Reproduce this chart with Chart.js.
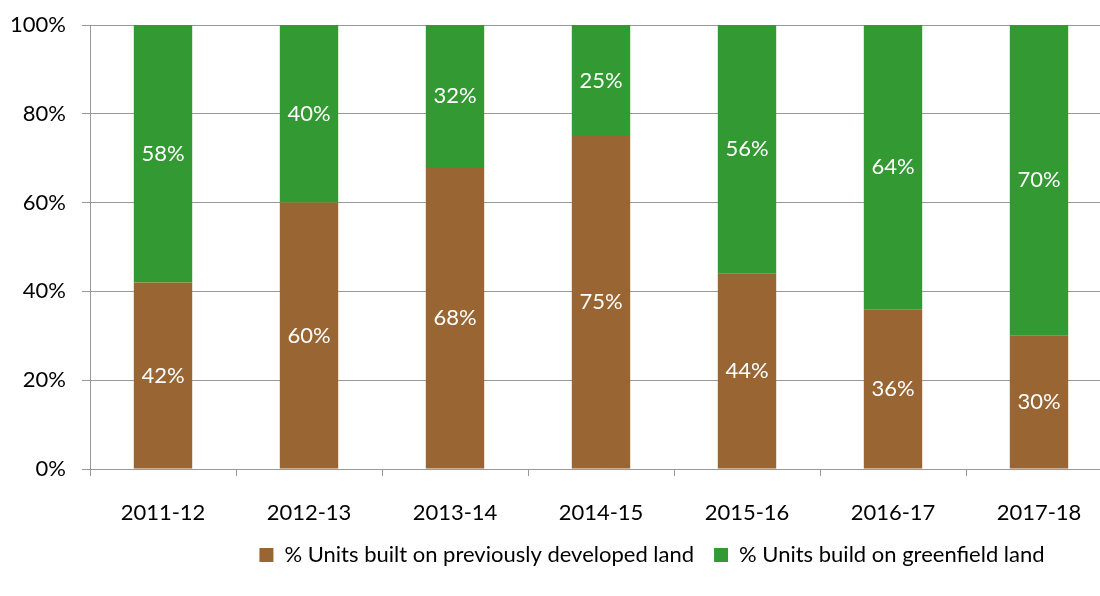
<!DOCTYPE html>
<html>
<head>
<meta charset="utf-8">
<script src="https://cdn.jsdelivr.net/npm/chart.js@4.4.1/dist/chart.umd.min.js"></script>
<style>
    html, body { margin: 0; padding: 0; background: #fff; overflow: hidden; }
    #wrap { width: 1120px; height: 596px; }
</style>
</head>
<body>
<div id="wrap"><canvas id="canvas" width="1120" height="596"></canvas></div>
<script>
var years = ['2011-12', '2012-13', '2013-14', '2014-15', '2015-16', '2016-17', '2017-18'];
var previouslyDeveloped = [42, 60, 68, 75, 44, 36, 30];
var greenfield = [58, 40, 32, 25, 56, 64, 70];
var yTicks = [0, 20, 40, 60, 80, 100];

var fontFamily = 'Lato, "Open Sans", sans-serif';

// white value labels in the middle of each bar segment
var barLabels = {
    id: 'barLabels',
    afterDatasetsDraw: function (chart) {
        var ctx = chart.ctx;
        ctx.save();
        ctx.fillStyle = '#ffffff';
        ctx.font = '22px ' + fontFamily;
        ctx.textAlign = 'center';
        ctx.textBaseline = 'middle';
        chart.data.datasets.forEach(function (ds, i) {
            chart.getDatasetMeta(i).data.forEach(function (bar, j) {
                var mid = (bar.y + bar.base) / 2;
                ctx.fillText(ds.data[j] + '%', bar.x, mid);
            });
        });
        ctx.restore();
    }
};

// the legend sits right of centre in the original, move it over
var legendShift = {
    id: 'legendShift',
    afterLayout: function (chart) {
        chart.legend.left += 96;
        chart.legend.right += 96;
    }
};

var ctx = document.getElementById('canvas').getContext('2d');
var myChart = new Chart(ctx, {
    type: 'bar',
    data: {
        labels: years,
        datasets: [{
            label: '% Units built on previously developed land',
            data: previouslyDeveloped,
            backgroundColor: '#996633',
            barPercentage: 0.4,
            categoryPercentage: 1.0
        }, {
            label: '% Units build on greenfield land',
            data: greenfield,
            backgroundColor: '#339933',
            barPercentage: 0.4,
            categoryPercentage: 1.0
        }]
    },
    options: {
        responsive: false,
        animation: false,
        layout: { padding: { left: 0, right: 8, top: 25, bottom: 20 } },
        plugins: {
            tooltip: { enabled: false },
            legend: {
                position: 'bottom',
                labels: {
                    color: '#000',
                    font: { size: 22, family: fontFamily },
                    boxWidth: 14,
                    boxHeight: 14,
                    padding: 20
                }
            }
        },
        scales: {
            x: {
                stacked: true,
                grid: {
                    offset: true,
                    drawOnChartArea: false,
                    drawTicks: true,
                    tickLength: 7,
                    color: '#999'
                },
                border: { color: '#999' },
                ticks: {
                    color: '#000',
                    font: { size: 22, family: fontFamily },
                    padding: 24,
                    maxRotation: 0
                },
                afterFit: function (scale) { scale.height = 55; }
            },
            y: {
                stacked: true,
                min: 0,
                max: 100,
                afterBuildTicks: function (scale) {
                    scale.ticks = yTicks.map(function (v) { return { value: v }; });
                },
                grid: {
                    color: '#999',
                    tickLength: 8
                },
                border: { color: '#999' },
                ticks: {
                    color: '#000',
                    font: { size: 22, family: fontFamily },
                    padding: 16,
                    callback: function (v) { return v + '%'; }
                },
                afterFit: function (scale) {
                    scale.width = 90;
                    scale.paddingTop = 0;
                    scale.paddingBottom = 0;
                }
            }
        }
    },
    plugins: [barLabels, legendShift]
});
</script>
</body>
</html>
